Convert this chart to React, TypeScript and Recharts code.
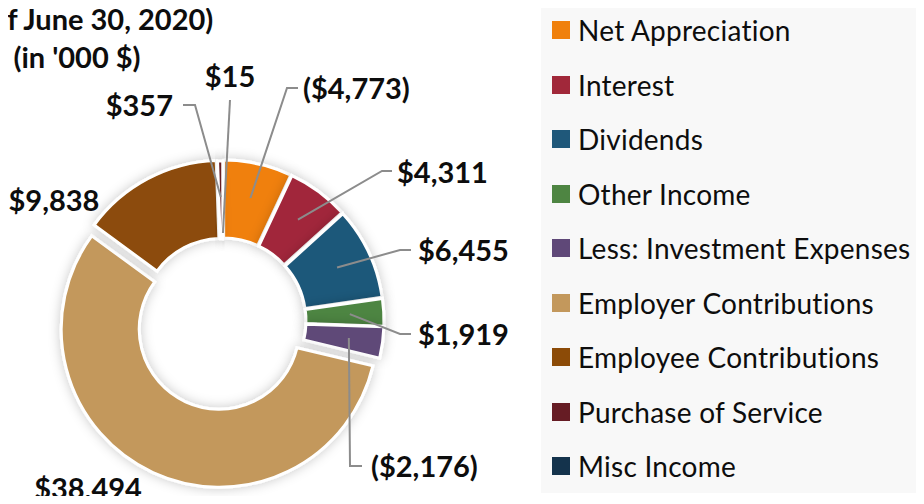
import { Cell, Legend, Pie, PieChart } from "recharts";

const CATEGORIES = [
  "Net Appreciation",
  "Interest",
  "Dividends",
  "Other Income",
  "Less: Investment Expenses",
  "Employer Contributions",
  "Employee Contributions",
  "Purchase of Service",
  "Misc Income",
];

// in '000 $, negatives shown in parentheses
const AMOUNTS = [-4773, 4311, 6455, 1919, -2176, 38494, 9838, 357, 15];

const COLORS = [
  "#f0800c",
  "#a1283a",
  "#1f587a",
  "#4e8542",
  "#5f4878",
  "#c3985c",
  "#8c4b07",
  "#661c24",
  "#14334c",
];

const TITLE_LINES = ["(As of June 30, 2020)", "(in '000 $)"];

// how far each slice is pulled out of the ring
const EXPLODE = [3, 3, 3, 3, 3, 9, 3, 2, 2];

// label placement: text anchor point, leader elbow/tail points, start radius of leader
interface LabelLayout {
  x: number;
  y: number;
  anchor: "start" | "middle" | "end";
  line?: number[][];
  r?: number;
}

const LABEL_LAYOUT: LabelLayout[] = [
  { x: 303, y: 87, anchor: "start", line: [[287, 88], [298, 88]], r: 123 },
  { x: 397, y: 171, anchor: "start", line: [[382, 171], [392, 171]], r: 123 },
  { x: 418, y: 249, anchor: "start", line: [[400, 250], [411, 250]], r: 123 },
  { x: 418, y: 333, anchor: "start", line: [[400, 334], [411, 334]], r: 124 },
  { x: 371, y: 465, anchor: "start", line: [[350, 466], [362, 466]], r: 124 },
  { x: 88, y: 487, anchor: "middle" },
  { x: 54, y: 199, anchor: "middle" },
  { x: 173, y: 104, anchor: "end", line: [[195, 105], [183, 105]], r: 122 },
  { x: 230, y: 75, anchor: "middle", line: [[230, 100]], r: 86 },
];

const FONT = "Lato, 'DejaVu Sans', sans-serif";

const rows = CATEGORIES.map((name, i) => ({
  name,
  amount: AMOUNTS[i],
  size: Math.abs(AMOUNTS[i]),
}));

const total = rows.reduce((s, r) => s + r.size, 0);

// mid angle of each slice, clockwise from 12 o'clock
const midAngles = rows.map((_, i) => {
  const before = rows.slice(0, i).reduce((s, r) => s + r.size, 0);
  return ((before + rows[i].size / 2) / total) * 360;
});

function explodeOffset(i: number): [number, number] {
  const a = (midAngles[i] * Math.PI) / 180;
  return [EXPLODE[i] * Math.sin(a), -EXPLODE[i] * Math.cos(a)];
}

function formatAmount(v: number): string {
  const s = "$" + Math.abs(v).toLocaleString("en-US");
  return v < 0 ? `(${s})` : s;
}

function renderLabel(props: any) {
  const { cx, cy, midAngle, index } = props;
  const layout = LABEL_LAYOUT[index];
  const rad = (-midAngle * Math.PI) / 180;
  const [ox, oy] = explodeOffset(index);
  let line = null;
  if (layout.line && layout.r) {
    const sx = cx + layout.r * Math.cos(rad) + ox;
    const sy = cy + layout.r * Math.sin(rad) + oy;
    const pts = [[sx, sy], ...layout.line].map((p) => p.join(",")).join(" ");
    line = <polyline points={pts} fill="none" stroke="#8c8c8c" strokeWidth={2} />;
  }
  return (
    <g key={`lbl-${index}`}>
      {line}
      <text
        x={layout.x}
        y={layout.y}
        textAnchor={layout.anchor}
        dominantBaseline="central"
        fill="#0d0d0d"
        fontFamily={FONT}
        fontWeight="bold"
        fontSize={29}
      >
        {formatAmount(AMOUNTS[index])}
      </text>
    </g>
  );
}

function LegendPanel() {
  return (
    <div
      style={{
        width: 383,
        height: 490,
        background: "#f8f8f8",
        fontFamily: FONT,
        fontVariantLigatures: "none",
        position: "relative",
      }}
    >
      {CATEGORIES.map((name, i) => (
        <div
          key={name}
          style={{
            position: "absolute",
            left: 11,
            top: 27 + i * 54.5 - 18,
            height: 36,
            display: "flex",
            alignItems: "center",
            whiteSpace: "nowrap",
          }}
        >
          <span
            style={{
              display: "inline-block",
              width: 18,
              height: 18,
              background: COLORS[i],
              marginRight: 8,
            }}
          />
          <span style={{ fontSize: 28, letterSpacing: 0.25, color: "#0d0d0d" }}>{name}</span>
        </div>
      ))}
    </div>
  );
}

export default function App() {
  return (
    <div
      style={{
        position: "relative",
        margin: -8,
        width: 924,
        height: 504,
        overflow: "hidden",
        background: "#fff",
      }}
    >
      <svg width={0} height={0} style={{ position: "absolute" }}>
        <defs>
          <filter id="donutGlow" x="-30%" y="-30%" width="160%" height="160%">
            <feDropShadow dx={0} dy={0} stdDeviation={6} floodColor="#000" floodOpacity={0.22} />
          </filter>
        </defs>
      </svg>
      <style>{`.recharts-pie-sector path { filter: url(#donutGlow); }`}</style>
      <PieChart width={924} height={504} margin={{ top: 0, right: 0, bottom: 0, left: 0 }}>
        <Pie
          data={rows}
          dataKey="size"
          nameKey="name"
          cx={223}
          cy={321}
          innerRadius={80}
          outerRadius={158}
          startAngle={90}
          endAngle={-270}
          stroke="#fff"
          strokeWidth={3}
          label={renderLabel}
          labelLine={false}
          isAnimationActive={false}
        >
          {rows.map((r, i) => {
            const [ox, oy] = explodeOffset(i);
            return (
              <Cell
                key={r.name}
                fill={COLORS[i]}
                transform={`translate(${ox.toFixed(2)},${oy.toFixed(2)})`}
              />
            );
          })}
        </Pie>
        <Legend
          layout="vertical"
          align="right"
          verticalAlign="top"
          wrapperStyle={{ left: 541, top: 3, width: 383, height: 490 }}
          content={() => <LegendPanel />}
        />
      </PieChart>
      <div
        style={{
          position: "absolute",
          left: -57,
          top: 0,
          width: 268,
          textAlign: "center",
          fontFamily: FONT,
          fontVariantLigatures: "none",
          fontWeight: "bold",
          fontSize: 29,
          color: "#0d0d0d",
          lineHeight: "38px",
          whiteSpace: "nowrap",
        }}
      >
        {TITLE_LINES.map((t) => (
          <div key={t}>{t}</div>
        ))}
      </div>
    </div>
  );
}
